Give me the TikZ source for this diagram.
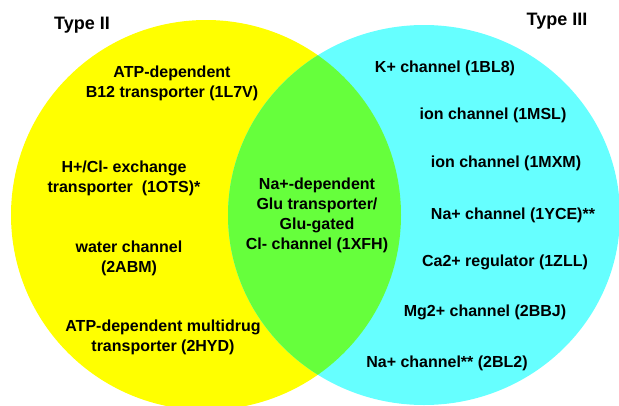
\documentclass[tikz,border=0pt]{standalone}
\usepackage{fontspec}
\setmainfont{Liberation Sans}
\usetikzlibrary{positioning}
\definecolor{typetwo}{RGB}{255,255,0}
\definecolor{typethree}{RGB}{102,255,255}
\definecolor{shared}{RGB}{102,255,60}

\begin{document}
\begin{tikzpicture}[x=1pt,y=-1pt,
    entry/.style={align=center,inner sep=0pt,
      font=\bfseries\fontsize{16}{20}\selectfont},
    setname/.style={entry,font=\bfseries\fontsize{18}{20}\selectfont}]
	  % Page size
	  \clip (0,0) rectangle (619,405);
	  % Draw the two sets
	  \fill[typetwo] (206,215) circle (195);
	  \fill[typethree] (424,215) ellipse (196 and 190);
	  % Overlap of both sets
	  \begin{scope}
	    \clip (206,215) circle (195);
	    \fill[shared] (424,215) ellipse (196 and 190);
	  \end{scope}
	  % Set names
	  \node[setname] (typeii) at (82,25) {Type II};
	  \node[setname] (typeiii) at (557,21) {Type III};
	  % Type II only
	  \node[entry] (b12) at (172,83) {ATP-dependent\\B12 transporter (1L7V)};
	  \node[entry] (hcl) at (124,178) {H+/Cl- exchange\\transporter\ \ (1OTS)*};
	  \node[entry] (water) at (129,258) {water channel\\(2ABM)};
	  \node[entry] (multidrug) at (163,337) {ATP-dependent multidrug\\transporter (2HYD)};
	  % Both types
	  \node[entry] (glu) at (317,215) {Na+-dependent\\Glu transporter/\\Glu-gated\\Cl- channel (1XFH)};
	  % Type III only
	  \node[entry] (kchan) at (445,68) {K+ channel (1BL8)};
	  \node[entry] (msl) at (493,115) {ion channel (1MSL)};
	  \node[entry] (mxm) at (506,163) {ion channel (1MXM)};
	  \node[entry] (yce) at (513,215) {Na+ channel (1YCE)**};
	  \node[entry] (zll) at (505,262) {Ca2+ regulator (1ZLL)};
	  \node[entry] (bbj) at (485,312) {Mg2+ channel (2BBJ)};
	  \node[entry] (bltwo) at (447,363) {Na+ channel** (2BL2)};
      \end{tikzpicture}
\end{document}
